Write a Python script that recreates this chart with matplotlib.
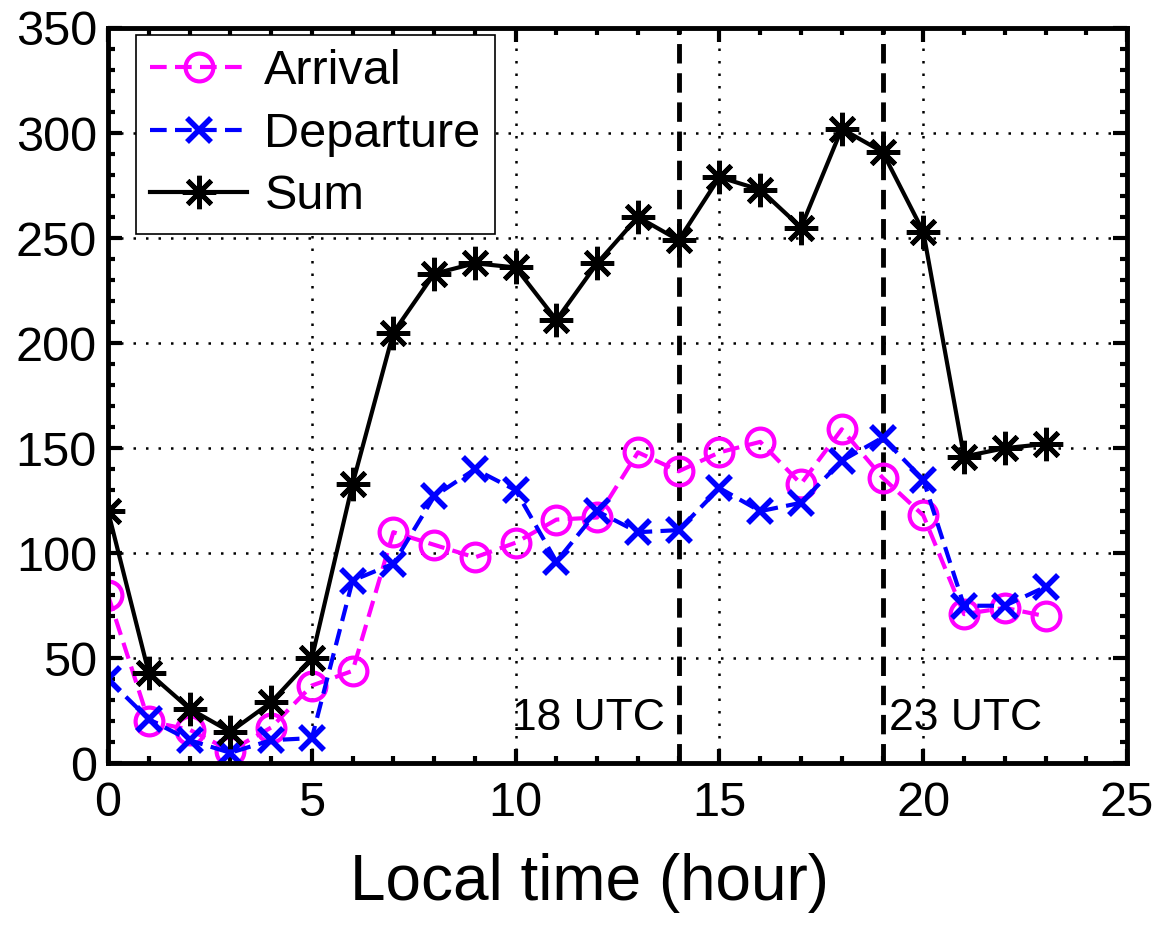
import matplotlib
matplotlib.use("Agg")
import matplotlib.pyplot as plt
from matplotlib.ticker import MultipleLocator

hours = list(range(24))
arrival = [80, 20, 16, 6, 17, 37, 44, 110, 104, 98, 105, 116, 117, 148,
           139, 148, 153, 133, 159, 136, 118, 71, 74, 70]
departure = [40, 21, 11, 5, 11, 12, 87, 95, 127, 140, 130, 96, 120, 110,
             111, 131, 120, 124, 144, 155, 135, 75, 75, 84]
total = [120, 43, 26, 15, 29, 50, 133, 205, 233, 238, 236, 211, 238, 260,
         249, 279, 273, 255, 302, 291, 253, 146, 150, 152]
utc_lines = [14, 19]
utc_labels = ["18 UTC", "23 UTC"]

plt.rcParams['font.family'] = ['Liberation Sans', 'DejaVu Sans']

fig = plt.figure(figsize=(11.64, 9.32), dpi=100)
ax = fig.add_axes([0.0928, 0.181, 0.8755, 0.789])

ax.plot(hours, arrival, color='#ff00ff', linestyle=(0, (4, 2)), linewidth=3,
        marker='o', markersize=20, markerfacecolor='none', markeredgewidth=3,
        label='Arrival')
ax.plot(hours, departure, color='#0000ff', linestyle=(0, (4, 2)), linewidth=3,
        marker='x', markersize=17, markeredgewidth=4, label='Departure')
ax.plot(hours, total, color='black', linestyle='-', linewidth=3,
        marker=(8, 2, 0), markersize=24, markeredgewidth=3.5, label='Sum')

for xv in utc_lines:
    ax.axvline(xv, color='black', linestyle=(0, (4, 2)), linewidth=3.5, zorder=1)

ax.text(9.9, 16, utc_labels[0], fontsize=32, ha='left', va='baseline')
ax.text(19.15, 16, utc_labels[1], fontsize=32, ha='left', va='baseline')

ax.set_xlim(0, 25)
ax.set_ylim(0, 350)
ax.xaxis.set_major_locator(MultipleLocator(5))
ax.xaxis.set_minor_locator(MultipleLocator(1))
ax.yaxis.set_major_locator(MultipleLocator(50))
ax.yaxis.set_minor_locator(MultipleLocator(10))
ax.tick_params(which='both', direction='in', top=True, right=True, labelsize=35,
               width=3)
ax.tick_params(axis='x', pad=13)
ax.tick_params(axis='y', pad=8)
ax.tick_params(which='major', length=10)
ax.tick_params(which='minor', length=5)
ax.grid(True, which='major', color='black', linestyle=(0, (1, 4)), linewidth=1.8)
for s in ax.spines.values():
    s.set_linewidth(3.5)

ax.set_xlabel('Local time (hour)', fontsize=46)
ax.xaxis.set_label_coords(0.472, -0.122, transform=ax.transAxes)
ax.xaxis.label.set_va('top')

leg = ax.legend(loc='upper left', fontsize=35, frameon=True, fancybox=False,
                edgecolor='black', handlelength=2.0, bbox_to_anchor=(0.027, 0.991),
                borderaxespad=0.0, labelspacing=0.36, handletextpad=0.35,
                borderpad=0.3, framealpha=1)
leg.get_frame().set_linewidth(1.2)

fig.savefig('out.png', dpi=100)
